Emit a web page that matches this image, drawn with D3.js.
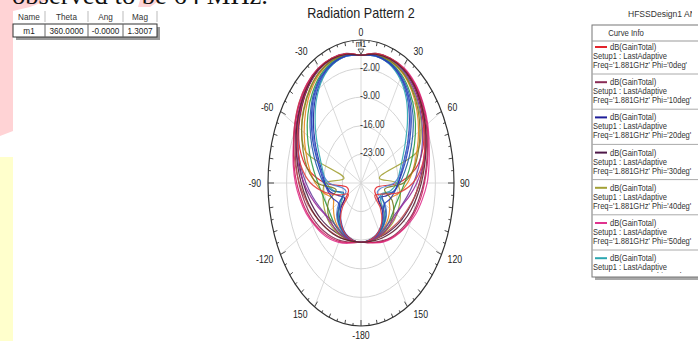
<!DOCTYPE html>
<html><head><meta charset="utf-8">
<script src="https://cdn.jsdelivr.net/npm/d3@7/dist/d3.min.js"></script>
<style>
body{margin:0;background:#fff;overflow:hidden;}
svg{display:block;font-family:"Liberation Sans",Arial,sans-serif;}
</style>
</head><body>
<svg id="chart" width="698" height="341"></svg>
<script>
// ---------------- DATA ----------------
const thetaDeg = [0,10,20,30,40,50,60,70,80,90,100,110,120,130,140,150,160,170,180,
                  190,200,210,220,230,240,250,260,270,280,290,300,310,320,330,340,350];
const radialTicks = [-23,-16,-9,-2];
const radialDomain = [-30,5];
const angleTicks = [0,30,60,90,120,150,180,210,240,270,300,330];
const angleLabels = ["0","30","60","90","120","150","-180","150","-120","-90","-60","-30"];

const gainPhi0  = [1.3,2.1,2.3,2.0,0.9,-0.8,-2.8,-5.2,-9.0,-16.0,-24.0,-24.5,-23.0,-18.5,-16.8,-16.0,-15.6,-15.5,-15.5,
                   -15.6,-16.0,-16.5,-17.2,-18.5,-24.0,-25.0,-24.5,-16.5,-9.5,-5.5,-3.0,-1.0,0.8,2.0,2.4,2.1];
const gainPhi10 = [1.3,2.2,2.5,2.3,1.4,0.0,-1.6,-3.4,-5.0,-6.4,-7.8,-9.0,-10.3,-11.5,-12.6,-13.7,-14.6,-15.2,-15.5,
                   -15.3,-14.7,-13.8,-12.8,-11.7,-10.5,-9.2,-8.0,-6.6,-5.2,-3.6,-1.8,-0.2,1.3,2.2,2.5,2.2];
const gainPhi20 = [1.3,1.6,1.1,-0.3,-2.8,-6.2,-9.6,-12.6,-14.6,-16.0,-17.5,-20.5,-22.5,-19.5,-17.2,-16.3,-15.8,-15.6,-15.5,
                   -15.6,-15.9,-16.5,-17.5,-20.0,-22.8,-21.0,-18.0,-16.5,-15.2,-13.0,-10.0,-6.6,-3.2,-0.5,1.0,1.6];
const gainPhi30 = [1.3,2.0,2.3,2.0,1.0,-0.6,-2.4,-4.4,-6.3,-8.0,-9.6,-11.0,-12.2,-13.3,-14.2,-14.9,-15.3,-15.5,-15.5,
                   -15.5,-15.4,-15.1,-14.5,-13.6,-12.5,-11.3,-9.9,-8.3,-6.6,-4.7,-2.7,-0.8,0.8,1.9,2.3,2.0];
const gainPhi40 = [1.3,1.9,2.0,1.5,0.2,-1.6,-3.8,-7.5,-23.0,-16.5,-15.0,-14.6,-14.5,-14.6,-14.9,-15.1,-15.3,-15.4,-15.5,
                   -15.4,-15.2,-15.0,-14.8,-14.6,-14.7,-15.0,-15.5,-16.5,-23.5,-8.0,-4.2,-1.8,0.1,1.4,2.0,1.9];
const gainPhi50 = [1.3,2.1,2.5,2.5,1.8,0.5,-1.0,-2.7,-4.0,-5.1,-6.6,-8.0,-9.6,-11.0,-12.2,-13.3,-14.4,-15.2,-15.5,
                   -15.2,-14.3,-13.2,-12.0,-10.8,-9.6,-8.1,-6.7,-5.3,-4.1,-2.9,-1.2,0.4,1.7,2.4,2.5,2.1];
const gainPhi60 = [1.3,1.5,1.0,-0.6,-3.4,-7.2,-10.8,-13.5,-15.3,-16.5,-18.8,-22.0,-21.5,-18.5,-17.0,-16.3,-15.8,-15.6,-15.5,
                   -15.6,-15.8,-16.4,-17.4,-19.0,-21.8,-22.5,-19.5,-17.0,-15.6,-13.8,-11.0,-7.5,-3.8,-0.8,0.9,1.5];
const gainPhi70 = [1.3,1.8,1.8,1.1,-0.4,-2.5,-5.0,-7.6,-10.0,-12.5,-15.5,-18.5,-17.5,-16.6,-16.1,-15.8,-15.6,-15.5,-15.5,
                   -15.5,-15.6,-15.8,-16.2,-16.9,-18.0,-18.8,-15.8,-12.8,-10.3,-7.9,-5.3,-2.8,-0.6,1.0,1.8,1.8];
const gainPhi80 = [1.3,1.7,1.5,0.6,-1.2,-3.6,-6.4,-9.2,-11.6,-13.6,-15.0,-15.8,-16.0,-15.8,-15.6,-15.5,-15.5,-15.5,-15.5,
                   -15.5,-15.5,-15.6,-15.7,-16.0,-16.2,-15.9,-15.1,-13.8,-11.9,-9.5,-6.7,-3.9,-1.4,0.5,1.5,1.7];
const gainPhi90 = [1.3,1.5,1.1,-0.2,-2.6,-5.8,-9.4,-12.4,-14.8,-17.5,-22.5,-23.5,-19.5,-17.5,-16.5,-16.0,-15.7,-15.5,-15.5,
                   -15.5,-15.7,-16.1,-16.8,-18.0,-20.5,-24.0,-23.0,-18.0,-15.0,-12.6,-9.6,-6.0,-2.8,-0.4,1.1,1.5];
const gainPhi100 = [1.3,2.0,2.2,1.7,0.5,-1.2,-3.3,-5.6,-8.0,-10.2,-12.2,-13.8,-15.0,-15.6,-15.8,-15.7,-15.6,-15.5,-15.5,
                    -15.5,-15.6,-15.8,-15.9,-15.6,-14.6,-13.2,-11.4,-9.3,-7.0,-4.8,-2.6,-0.7,0.9,1.9,2.2,2.0];
const gainPhi110 = [1.3,2.2,2.4,2.2,1.3,-0.2,-2.0,-4.0,-6.0,-7.9,-9.7,-11.3,-12.6,-13.7,-14.5,-15.0,-15.3,-15.5,-15.5,
                    -15.4,-15.1,-14.6,-13.9,-12.9,-11.7,-10.2,-8.6,-6.8,-4.9,-3.0,-1.2,0.5,1.6,2.3,2.4,2.1];
const gainPhi120 = [1.3,1.7,1.4,0.3,-1.7,-4.4,-7.6,-10.6,-13.2,-15.4,-17.8,-21.5,-20.0,-17.8,-16.7,-16.1,-15.7,-15.6,-15.5,
                    -15.6,-15.8,-16.3,-17.0,-18.6,-21.0,-23.0,-19.0,-16.0,-13.8,-11.2,-8.2,-5.0,-2.0,0.2,1.3,1.7];
const gainPhi130 = [1.3,2.1,2.4,2.3,1.6,0.3,-1.3,-3.1,-4.7,-6.1,-7.3,-8.6,-9.9,-11.2,-12.4,-13.5,-14.5,-15.2,-15.5,
                    -15.2,-14.5,-13.5,-12.4,-11.2,-9.9,-8.5,-7.2,-5.8,-4.4,-3.0,-1.4,0.2,1.5,2.3,2.4,2.1];
const gainPhi140 = [1.3,1.9,1.9,1.3,-0.1,-2.0,-4.4,-7.0,-9.8,-14.0,-21.0,-17.5,-15.8,-15.2,-15.1,-15.2,-15.3,-15.4,-15.5,
                    -15.4,-15.3,-15.2,-15.1,-15.2,-15.6,-17.0,-20.5,-13.5,-9.5,-6.8,-4.2,-2.0,-0.1,1.3,1.9,1.9];
const gainPhi150 = [1.3,2.0,2.3,2.1,1.1,-0.4,-2.2,-4.2,-6.5,-9.0,-11.5,-13.6,-14.6,-15.0,-15.2,-15.3,-15.4,-15.5,-15.5,
                    -15.5,-15.4,-15.3,-15.2,-15.0,-14.4,-12.8,-10.8,-8.5,-6.2,-4.1,-2.1,-0.3,1.1,2.0,2.3,2.0];
const gainPhi160 = [1.3,1.6,1.2,0.0,-2.2,-5.3,-8.8,-11.8,-14.2,-16.0,-17.2,-18.4,-19.8,-19.2,-17.6,-16.5,-15.9,-15.6,-15.5,
                    -15.6,-16.0,-16.8,-18.2,-19.8,-20.2,-18.8,-17.5,-16.2,-14.6,-12.2,-9.0,-5.6,-2.4,-0.1,1.1,1.6];
const gainPhi170 = [1.3,2.1,2.4,2.2,1.2,-0.4,-2.3,-4.4,-6.8,-10.5,-16.0,-22.0,-24.0,-20.5,-17.8,-16.4,-15.8,-15.6,-15.5,
                    -15.6,-15.9,-16.6,-18.0,-21.0,-24.5,-21.5,-16.5,-11.0,-7.2,-4.6,-2.4,-0.5,1.1,2.1,2.4,2.1];
const gainPhi180 = [1.3,2.0,2.3,2.1,1.2,-0.3,-2.0,-3.9,-5.7,-7.3,-8.8,-10.1,-11.4,-12.6,-13.6,-14.4,-15.0,-15.4,-15.5,
                    -15.5,-15.1,-14.5,-13.7,-12.8,-11.7,-10.4,-9.0,-7.5,-5.8,-4.0,-2.1,-0.4,1.1,2.1,2.3,2.0];

const phiNames  = ["0deg","10deg","20deg","30deg","40deg","50deg","60deg","70deg","80deg","90deg",
                   "100deg","110deg","120deg","130deg","140deg","150deg","160deg","170deg","180deg"];
const curveColors = ["#e3242b","#8a2c55","#1e1e9a","#4e1848","#a3a135","#e0338e","#2ba6b0","#e8861c","#2e9c44","#4f7fd6",
                     "#6b3fa0","#c0504d","#1f5fa8","#d02060","#7a7a20","#9a2a9a","#2a3ab8","#e04040","#5a2030"];
const gainSeries = [gainPhi0,gainPhi10,gainPhi20,gainPhi30,gainPhi40,gainPhi50,gainPhi60,gainPhi70,gainPhi80,gainPhi90,
                    gainPhi100,gainPhi110,gainPhi120,gainPhi130,gainPhi140,gainPhi150,gainPhi160,gainPhi170,gainPhi180];

const markerName = "m1", markerTheta = 360, markerMag = 1.3007;
const tableHeader = ["Name","Theta","Ang","Mag"];
const tableRow = ["m1","360.0000","-0.0000","1.3007"];
const legendShown = 7;

// ---------------- DRAW ----------------
const svg = d3.select("#chart");
const SX = 0.83;
function txt(g, x, y, s, size, anchor, fill, sx){
  return g.append("text").attr("transform",`translate(${x},${y}) scale(${sx||SX},1)`)
    .attr("font-size",size).attr("text-anchor",anchor||"start").attr("fill",fill||"#222").text(s);
}

// page decorations
svg.append("path").attr("d","M0,0 L48,0 L30,7 L13,11 L13,131 L0,136 Z").attr("fill","#ffd3d5");
svg.append("path").attr("d","M140,0 L160,0 L150,7 L138,7 Z").attr("fill","#ffd3d5");
svg.append("rect").attr("x",0).attr("y",157).attr("width",13).attr("height",184).attr("fill","#ffffcc");
svg.append("text").attr("x",12).attr("y",4).attr("font-family","'Liberation Serif',serif")
  .attr("font-size",26).attr("textLength",256).attr("lengthAdjust","spacingAndGlyphs")
  .attr("fill","#111").text("observed to be 64 MHz.");

// polar geometry
const cx = 361, cy = 183, rx = 93, ry = 143;
const r = d3.scaleLinear().domain(radialDomain).range([0,1]);
const rad = d => d*Math.PI/180;
const pt = (t, v) => [cx + rx*r(v)*Math.sin(rad(t)), cy - ry*r(v)*Math.cos(rad(t))];

const grid = svg.append("g");
radialTicks.forEach(v=>{
  grid.append("ellipse").attr("cx",cx).attr("cy",cy).attr("rx",rx*r(v)).attr("ry",ry*r(v))
    .attr("fill","none").attr("stroke","#cfcfcf").attr("stroke-width",0.9);
});
angleTicks.forEach(a=>{
  const [x2,y2] = pt(a, radialDomain[1]);
  grid.append("line").attr("x1",cx).attr("y1",cy).attr("x2",x2).attr("y2",y2)
    .attr("stroke","#d6d6d6").attr("stroke-width",0.9);
});
grid.append("ellipse").attr("cx",cx).attr("cy",cy).attr("rx",rx).attr("ry",ry)
  .attr("fill","none").attr("stroke","#333").attr("stroke-width",1.2);
d3.range(0,360,5).forEach(a=>{
  const L = a%30===0 ? 6 : (a%10===0 ? 4 : 2.5);
  const s = Math.sin(rad(a)), c = Math.cos(rad(a));
  grid.append("line")
    .attr("x1",cx+rx*s).attr("y1",cy-ry*c)
    .attr("x2",cx+(rx-L)*s).attr("y2",cy-(ry-L)*c)
    .attr("stroke","#333").attr("stroke-width",0.9);
});
angleTicks.forEach((a,i)=>{
  const s = Math.sin(rad(a)), c = Math.cos(rad(a));
  const ex = cx+rx*s, ey = cy-ry*c;
  let anchor = "middle", x = ex, y = ey - 9*c + 3.5;
  if (s > 0.1){ anchor = "start"; x = ex + 6; }
  else if (s < -0.1){ anchor = "end"; x = ex - 7; }
  else if (c > 0){ y = ey - 4; }
  else { y = ey + 13; }
  txt(svg, x, y, angleLabels[i], 10.5, anchor, "#222");
});
radialTicks.forEach(v=>{
  txt(svg, cx-1, cy - ry*r(v) + 2, v.toFixed(2), 10.5, "start", "#333");
});

// curves
const line = d3.line().curve(d3.curveCatmullRomClosed.alpha(0.5));
gainSeries.forEach((vals,i)=>{
  const pts = thetaDeg.map((t,j)=>pt(t, vals[j]));
  svg.append("path").attr("d",line(pts)).attr("fill","none")
    .attr("stroke",curveColors[i]).attr("stroke-width",1.2).attr("stroke-opacity",0.9);
});

// marker
const [mx,my] = pt(markerTheta, markerMag);
svg.append("path").attr("d",`M${mx-3},${my-6} L${mx+3},${my-6} L${mx},${my-1} Z`)
  .attr("fill","none").attr("stroke","#333").attr("stroke-width",0.8);
txt(svg, mx, my-8, markerName, 9, "middle", "#222");

// title
txt(svg, cx, 18, "Radiation Pattern 2", 14, "middle", "#222", 0.9);

// marker table
const tb = svg.append("g");
const colX = [13,45,88,123,157];
tb.append("rect").attr("x",16).attr("y",27).attr("width",144).attr("height",13).attr("fill","#9a9a9a");
tb.append("rect").attr("x",13).attr("y",24).attr("width",144).attr("height",13).attr("fill","#fff").attr("stroke","#333").attr("stroke-width",1);
tableHeader.forEach((h,i)=>{
  txt(tb, (colX[i]+colX[i+1])/2, 20, h, 9.5, "middle", "#333", 0.86);
  tb.append("line").attr("x1",colX[i+1]).attr("x2",colX[i+1]).attr("y1",11).attr("y2",22).attr("stroke","#bbb");
  txt(tb, (colX[i]+colX[i+1])/2, 34, tableRow[i], 9.5, "middle", "#222", 0.86);
  if(i<3) tb.append("line").attr("x1",colX[i+1]).attr("x2",colX[i+1]).attr("y1",24).attr("y2",37).attr("stroke","#666");
});

// legend
const lg = svg.append("g");
svg.append("clipPath").attr("id","ttlclip").append("rect").attr("x",600).attr("y",0).attr("width",92).attr("height",24);
txt(lg.append("g").attr("clip-path","url(#ttlclip)"), 628, 17, "HFSSDesign1 ANSOFT", 9.5, "start", "#333", 0.9);
lg.append("rect").attr("x",595).attr("y",28).attr("width",120).attr("height",252).attr("fill","#a8a8a8");
lg.append("rect").attr("x",592).attr("y",25).attr("width",120).attr("height",252).attr("fill","#fff").attr("stroke","#777");
svg.append("clipPath").attr("id","lgclip").append("rect").attr("x",592).attr("y",25).attr("width",120).attr("height",248);
const lc = lg.append("g").attr("clip-path","url(#lgclip)");
txt(lc, 626, 36, "Curve Info", 9, "middle", "#333", 0.86);
lc.append("line").attr("x1",592).attr("x2",712).attr("y1",41).attr("y2",41).attr("stroke","#999");
for(let k=0;k<legendShown;k++){
  const b = 47 + 35.2*k;
  lc.append("line").attr("x1",595).attr("x2",607).attr("y1",b).attr("y2",b).attr("stroke",curveColors[k]).attr("stroke-width",2);
  txt(lc, 610, b+3, "dB(GainTotal)", 8.6, "start", "#333", 0.88);
  txt(lc, 593, b+12, "Setup1 : LastAdaptive", 8.6, "start", "#333", 0.88);
  txt(lc, 593, b+21, `Freq='1.881GHz' Phi='${phiNames[k]}'`, 8.6, "start", "#333", 0.88);
  lc.append("line").attr("x1",592).attr("x2",712).attr("y1",b+27).attr("y2",b+27).attr("stroke","#aaa");
}
</script>
</body></html>
